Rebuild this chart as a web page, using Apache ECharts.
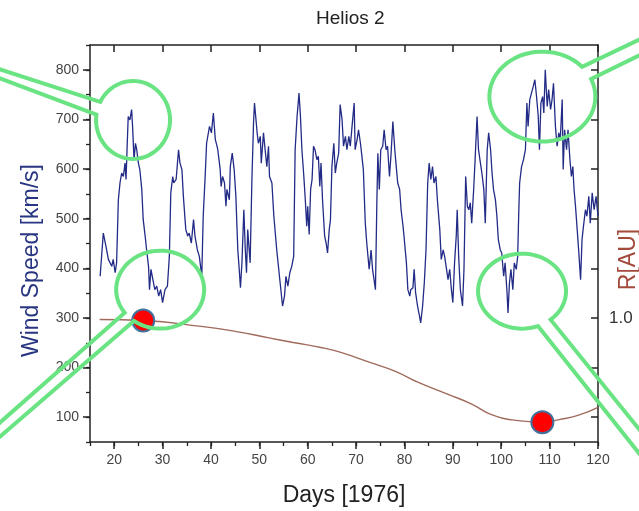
<!DOCTYPE html>
<html>
<head>
<meta charset="utf-8">
<script src="https://cdn.jsdelivr.net/npm/echarts@6/dist/echarts.min.js"></script>
<style>
  html, body { margin: 0; padding: 0; background: #fff; }
  #main { width: 639px; height: 511px; }
</style>
</head>
<body>
<div id="main"></div>
<script>
// wind speed (day of 1976, km/s)
var windDays = [17.1, 17.75, 18.3, 18.8, 19.5, 19.8, 20.2, 20.5, 20.86, 21.2, 21.55, 21.9, 22.24, 22.45, 22.7, 22.9, 23.25, 23.6, 23.8, 24.1, 24.4, 24.66, 25.0, 25.3, 25.7, 26.0, 26.4, 26.7, 27.1, 27.3, 27.6, 28.0, 28.4, 28.8, 29.2, 29.6, 30.0, 30.5, 31.0, 31.4, 31.7, 32.1, 32.3, 32.8, 33.3, 33.6, 34.0, 34.3, 34.8, 35.2, 35.5, 35.95, 36.4, 36.7, 37.2, 37.6, 38.1, 38.4, 38.8, 39.1, 39.7, 40.1, 40.5, 40.9, 41.4, 41.9, 42.1, 42.4, 42.8, 43.1, 43.3, 43.8, 44.0, 44.4, 44.8, 45.15, 45.55, 45.8, 46.1, 46.4, 46.8, 47.1, 47.35, 47.6, 47.9, 48.1, 48.45, 48.8, 49.0, 49.25, 49.55, 49.8, 50.2, 50.4, 50.86, 51.2, 51.55, 51.9, 52.1, 52.6, 53.0, 53.6, 54.3, 54.8, 55.2, 55.5, 55.9, 56.3, 56.7, 57.1, 57.4, 57.8, 58.2, 58.5, 58.8, 59.2, 59.5, 59.8, 60.0, 60.3, 60.6, 60.9, 61.2, 61.5, 61.9, 62.2, 62.5, 62.75, 63.06, 63.5, 63.8, 64.1, 64.45, 64.7, 65.0, 65.4, 65.7, 66.0, 66.4, 66.7, 67.1, 67.4, 67.8, 68.1, 68.5, 68.8, 69.1, 69.6, 69.8, 70.2, 70.5, 70.9, 71.2, 71.5, 71.9, 72.2, 72.7, 73.1, 73.4, 73.8, 74.0, 74.3, 74.5, 74.8, 75.1, 75.5, 75.8, 76.2, 76.5, 76.9, 77.2, 77.6, 78.0, 78.3, 78.6, 79.0, 79.3, 79.7, 79.9, 80.4, 80.7, 81.1, 81.3, 81.75, 82.0, 82.3, 82.7, 83.1, 83.35, 83.75, 84.1, 84.45, 84.8, 85.1, 85.45, 85.8, 86.1, 86.5, 86.8, 87.3, 87.6, 88.0, 88.3, 88.7, 89.0, 89.35, 89.7, 90.0, 90.35, 90.7, 90.9, 91.2, 91.55, 92.0, 92.3, 92.65, 93.0, 93.3, 93.6, 93.9, 94.3, 94.6, 95.0, 95.3, 95.7, 96.0, 96.4, 96.7, 97.1, 97.4, 97.8, 98.1, 98.4, 98.8, 99.1, 99.4, 99.8, 100.1, 100.5, 100.8, 101.2, 101.4, 101.7, 102.0, 102.4, 102.7, 103.1, 103.4, 103.6, 103.8, 104.2, 104.6, 105.0, 105.3, 105.55, 105.9, 106.25, 106.6, 106.95, 107.3, 107.65, 107.9, 108.2, 108.55, 108.8, 109.1, 109.5, 109.8, 110.2, 110.5, 110.8, 111.2, 111.55, 111.9, 112.2, 112.6, 112.8, 113.1, 113.5, 113.8, 114.2, 114.5, 114.8, 115.05, 115.35, 115.7, 116.0, 116.4, 116.7, 117.0, 117.4, 117.7, 118.1, 118.4, 118.8, 119.2, 119.6, 120.0];
var windSpeed = [384, 471, 444, 418, 404, 418, 391, 411, 538, 572, 592, 585, 612, 579, 652, 706, 699, 720, 686, 619, 652, 639, 612, 599, 559, 498, 465, 437, 404, 357, 398, 377, 357, 364, 344, 357, 331, 357, 364, 424, 552, 585, 572, 579, 639, 612, 599, 545, 478, 465, 471, 451, 498, 465, 437, 424, 384, 505, 585, 652, 686, 673, 713, 660, 640, 600, 565, 585, 572, 525, 559, 538, 605, 632, 599, 545, 437, 404, 361, 411, 518, 437, 391, 478, 437, 411, 572, 693, 733, 706, 673, 652, 666, 612, 673, 639, 605, 646, 585, 572, 505, 437, 371, 324, 344, 384, 364, 391, 404, 424, 639, 706, 753, 706, 639, 585, 538, 485, 525, 468, 559, 579, 646, 639, 619, 626, 565, 612, 538, 465, 451, 431, 478, 498, 605, 652, 592, 612, 632, 730, 700, 646, 666, 639, 666, 646, 679, 733, 639, 659, 679, 652, 626, 599, 491, 451, 398, 437, 398, 371, 357, 538, 632, 559, 639, 646, 679, 639, 646, 585, 626, 696, 639, 605, 572, 559, 518, 485, 465, 411, 357, 344, 357, 361, 398, 351, 324, 304, 290, 324, 371, 437, 572, 612, 579, 605, 572, 585, 538, 478, 418, 437, 424, 398, 377, 398, 357, 331, 411, 465, 518, 424, 357, 324, 398, 585, 525, 518, 532, 491, 559, 619, 706, 639, 612, 592, 559, 491, 639, 673, 639, 592, 559, 538, 505, 458, 437, 431, 384, 411, 351, 310, 371, 398, 357, 411, 398, 424, 505, 572, 605, 619, 639, 733, 686, 740, 753, 766, 780, 746, 706, 639, 733, 746, 713, 800, 726, 760, 720, 740, 773, 686, 646, 673, 659, 740, 599, 679, 639, 679, 619, 585, 605, 559, 525, 478, 437, 377, 458, 485, 518, 505, 545, 491, 552, 518, 545, 505];

// heliocentric distance R [AU]
var rDays = [17, 26, 38, 45, 52, 57, 63, 67, 73, 78, 83, 89, 94, 98, 103, 108.5, 112, 116, 120];
var rValues = [0.99, 0.983, 0.943, 0.91, 0.866, 0.835, 0.80, 0.767, 0.70, 0.643, 0.565, 0.487, 0.42, 0.35, 0.312, 0.30, 0.317, 0.347, 0.40];

// marked positions on the orbit
var dotDays = [26, 108.5];
var dotR = [0.983, 0.30];

var xTicks = [20, 30, 40, 50, 60, 70, 80, 90, 100, 110, 120];
var yTicks = [100, 200, 300, 400, 500, 600, 700, 800];
var rTicks = [1/3, 2/3, 1, 4/3, 5/3, 2, 7/3, 8/3];
var rLabels = [1];

var FONT = 'Arial, "Liberation Sans", sans-serif';
var chart = echarts.init(document.getElementById('main'));

function zip(a, b) { return a.map(function (v, i) { return [v, b[i]]; }); }

var frame = { lineStyle: { color: '#222', width: 1.5 } };

chart.setOption({
  animation: false,
  title: {
    text: 'Helios 2', left: 311, top: 4,
    textStyle: { fontFamily: FONT, fontSize: 19, fontWeight: 'normal', color: '#222' }
  },
  grid: { left: 90, right: 41, top: 45, bottom: 69, outerBoundsMode: 'none', containLabel: false },
  xAxis: [
    {
      type: 'value', position: 'bottom', min: 15, max: 120,
      axisLine: frame,
      axisTick: { customValues: xTicks, length: 7, lineStyle: { color: '#222', width: 1.5 } },
      axisLabel: { customValues: xTicks, color: '#444', fontSize: 14, margin: 11, fontFamily: FONT },
      splitLine: { show: false },
      name: 'Days [1976]', nameLocation: 'middle', nameGap: 42,
      nameTextStyle: { fontFamily: FONT, fontSize: 23, color: '#222' }
    },
    {
      type: 'value', position: 'bottom', min: 15, max: 120, interval: 5,
      axisLine: { show: false },
      axisTick: { length: 4, lineStyle: { color: '#222', width: 1.3 } },
      axisLabel: { show: false }, splitLine: { show: false }
    },
    {
      type: 'value', position: 'top', min: 15, max: 120,
      axisLine: frame,
      axisTick: { customValues: xTicks, inside: true, length: 7, lineStyle: { color: '#222', width: 1.5 } },
      axisLabel: { show: false }, splitLine: { show: false }
    }
  ],
  yAxis: [
    {
      type: 'value', position: 'left', min: 50, max: 850,
      axisLine: { show: true, lineStyle: { color: '#222', width: 1.5 } },
      axisTick: { customValues: yTicks, length: 7, lineStyle: { color: '#222', width: 1.5 } },
      axisLabel: { customValues: yTicks, color: '#444', fontSize: 14, margin: 11, fontFamily: FONT },
      splitLine: { show: false },
      name: 'Wind Speed [km/s]', nameLocation: 'middle', nameGap: 47,
      nameTextStyle: { fontFamily: FONT, fontSize: 23, color: '#283580', padding: [0, 34, 0, 0] }
    },
    {
      type: 'value', position: 'left', min: 50, max: 850, interval: 50,
      axisLine: { show: false },
      axisTick: { length: 4, lineStyle: { color: '#222', width: 1.3 } },
      axisLabel: { show: false }, splitLine: { show: false }
    },
    {
      type: 'value', position: 'right', min: 1/6, max: 17/6,
      axisLine: { show: true, lineStyle: { color: '#222', width: 1.5 } },
      axisTick: { customValues: rTicks, inside: true, length: 7, lineStyle: { color: '#222', width: 1.5 } },
      axisLabel: {
        customValues: rLabels, color: '#333', fontSize: 17, margin: 11, fontFamily: FONT,
        formatter: function (v) { return v.toFixed(1); }
      },
      splitLine: { show: false }
    }
  ],
  series: [
    {
      name: 'wind', type: 'line', xAxisIndex: 0, yAxisIndex: 0,
      showSymbol: false, data: zip(windDays, windSpeed),
      lineStyle: { color: '#222b86', width: 1.3 }
    },
    {
      name: 'R', type: 'line', xAxisIndex: 0, yAxisIndex: 2,
      showSymbol: false, smooth: true, data: zip(rDays, rValues),
      lineStyle: { color: '#a06a5c', width: 1.4 }
    },
    {
      name: 'dots', type: 'scatter', xAxisIndex: 0, yAxisIndex: 2,
      symbolSize: 22, data: zip(dotDays, dotR), z: 5,
      itemStyle: { color: '#ff0000', borderColor: '#41719c', borderWidth: 2, opacity: 1 }
    }
  ]
});

// oval callouts: centre in data units, radii / tail in pixels
var callouts = [
  { day: 23.9, speed: 699, rx: 37, ry: 39, a1: 207.5, a2: 548, tipEnd: [-300, -104], tipStart: [-300, -105] },
  { day: 108.5, speed: 746, rx: 53, ry: 45, a1: 337, a2: 678.6, tipEnd: [260, -135], tipStart: [260, -121] },
  { day: 29.5, speed: 357, rx: 44, ry: 39, a1: 143.7, a2: 486.7, tipEnd: [-300, 268], tipStart: [-300, 256] },
  { day: 104.3, speed: 354, rx: 44, ry: 37.5, a1: 68.8, a2: 409.5, tipEnd: [260, 315], tipStart: [260, 342] }
];

var graphics = callouts.map(function (c) {
  var p = chart.convertToPixel({ seriesIndex: 0 }, [c.day, c.speed]);
  var pts = [];
  for (var k = 0; k <= 60; k++) {
    var a = (c.a1 + (c.a2 - c.a1) * k / 60) * Math.PI / 180;
    pts.push([p[0] + c.rx * Math.cos(a), p[1] + c.ry * Math.sin(a)]);
  }
  pts.push([p[0] + c.tipEnd[0], p[1] + c.tipEnd[1]]);
  pts.push([p[0] + c.tipStart[0], p[1] + c.tipStart[1]]);
  return {
    type: 'polygon', z: 100, silent: true,
    shape: { points: pts },
    style: { fill: 'none', stroke: '#6ae383', lineWidth: 4 }
  };
});

// right axis title, placed beside the axis line
var rightEdge = chart.convertToPixel({ seriesIndex: 0 }, [120, 450]);
graphics.push({
  type: 'text', z: 50, silent: true,
  x: rightEdge[0] + 31, y: rightEdge[1] + 16, rotation: Math.PI / 2,
  style: {
    text: 'R[AU]', fill: '#a34a3c', font: '23px ' + FONT,
    align: 'center', verticalAlign: 'middle'
  }
});

chart.setOption({ graphic: graphics });
</script>
</body>
</html>
